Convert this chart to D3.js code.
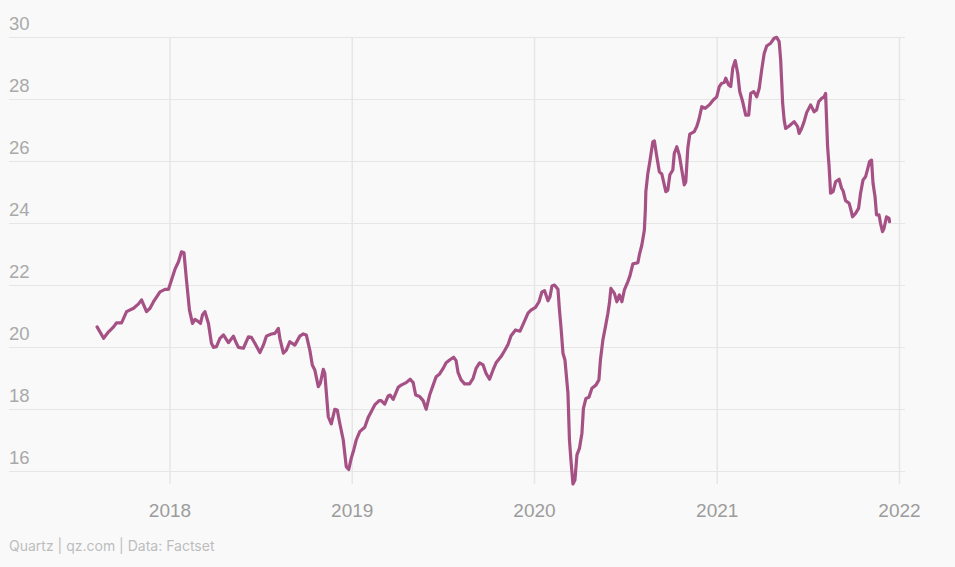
<!DOCTYPE html>
<html>
<head>
<meta charset="utf-8">
<script src="https://cdn.jsdelivr.net/npm/d3@7"></script>
<style>
	html, body { margin: 0; padding: 0; background: #f9f9f9; }
	svg { display: block; font-family: Inter, "Open Sans", sans-serif; }
</style>
</head>
<body>
<div class="container"></div>
<script>

// weekly-ish readings
let dates = [
	'2017-08-09', '2017-08-22', '2017-09-01', '2017-09-11', '2017-09-17', '2017-09-27', '2017-10-07', '2017-10-21',
	'2017-10-31', '2017-11-06', '2017-11-16', '2017-11-23', '2017-11-30', '2017-12-13', '2017-12-23', '2017-12-30',
	'2018-01-05', '2018-01-12', '2018-01-19', '2018-01-25', '2018-01-30', '2018-02-04', '2018-02-10', '2018-02-16',
	'2018-02-21', '2018-02-28', '2018-03-04', '2018-03-08', '2018-03-13', '2018-03-20', '2018-03-26', '2018-03-30',
	'2018-04-05', '2018-04-12', '2018-04-19', '2018-04-29', '2018-05-09', '2018-05-15', '2018-05-19', '2018-05-29',
	'2018-06-08', '2018-06-14', '2018-06-21', '2018-07-01', '2018-07-08', '2018-07-14', '2018-07-24', '2018-07-31',
	'2018-08-07', '2018-08-10', '2018-08-17', '2018-08-23', '2018-08-30', '2018-09-09', '2018-09-19', '2018-09-26',
	'2018-10-02', '2018-10-09', '2018-10-14', '2018-10-19', '2018-10-26', '2018-10-30', '2018-11-05', '2018-11-08',
	'2018-11-15', '2018-11-21', '2018-11-28', '2018-12-03', '2018-12-08', '2018-12-15', '2018-12-21', '2018-12-26',
	'2018-12-31', '2019-01-05', '2019-01-10', '2019-01-17', '2019-01-27', '2019-02-03', '2019-02-09', '2019-02-16',
	'2019-02-25', '2019-03-01', '2019-03-08', '2019-03-15', '2019-03-19', '2019-03-25', '2019-04-04', '2019-04-10',
	'2019-04-20', '2019-04-28', '2019-05-04', '2019-05-09', '2019-05-17', '2019-05-24', '2019-05-30', '2019-06-06',
	'2019-06-13', '2019-06-19', '2019-06-26', '2019-07-03', '2019-07-09', '2019-07-16', '2019-07-24', '2019-07-29',
	'2019-08-02', '2019-08-08', '2019-08-15', '2019-08-25', '2019-09-01', '2019-09-07', '2019-09-14', '2019-09-21',
	'2019-09-27', '2019-10-04', '2019-10-11', '2019-10-17', '2019-10-27', '2019-11-03', '2019-11-10', '2019-11-16',
	'2019-11-25', '2019-12-04', '2019-12-11', '2019-12-20', '2019-12-26', '2020-01-04', '2020-01-11', '2020-01-17',
	'2020-01-22', '2020-01-29', '2020-02-02', '2020-02-06', '2020-02-11', '2020-02-18', '2020-02-21', '2020-02-24',
	'2020-02-28', '2020-03-03', '2020-03-09', '2020-03-12', '2020-03-15', '2020-03-19', '2020-03-23', '2020-03-27',
	'2020-04-01', '2020-04-06', '2020-04-09', '2020-04-14', '2020-04-20', '2020-04-26', '2020-05-04', '2020-05-10',
	'2020-05-13', '2020-05-18', '2020-05-23', '2020-05-28', '2020-05-31', '2020-06-03', '2020-06-10', '2020-06-15',
	'2020-06-20', '2020-06-25', '2020-06-30', '2020-07-07', '2020-07-11', '2020-07-17', '2020-07-27', '2020-07-30',
	'2020-08-04', '2020-08-09', '2020-08-11', '2020-08-12', '2020-08-16', '2020-08-20', '2020-08-26', '2020-08-29',
	'2020-09-03', '2020-09-08', '2020-09-13', '2020-09-21', '2020-09-25', '2020-09-29', '2020-10-05', '2020-10-08',
	'2020-10-13', '2020-10-18', '2020-10-23', '2020-10-28', '2020-10-31', '2020-11-04', '2020-11-08', '2020-11-17',
	'2020-11-22', '2020-11-26', '2020-12-02', '2020-12-09', '2020-12-17', '2020-12-25', '2021-01-01', '2021-01-06',
	'2021-01-11', '2021-01-16', '2021-01-19', '2021-01-25', '2021-01-29', '2021-02-02', '2021-02-07', '2021-02-12',
	'2021-02-16', '2021-02-22', '2021-02-28', '2021-03-06', '2021-03-10', '2021-03-16', '2021-03-22', '2021-03-27',
	'2021-04-01', '2021-04-06', '2021-04-11', '2021-04-19', '2021-04-26', '2021-05-01', '2021-05-06', '2021-05-09',
	'2021-05-13', '2021-05-16', '2021-05-19', '2021-05-26', '2021-06-05', '2021-06-12', '2021-06-15', '2021-06-20',
	'2021-06-25', '2021-06-30', '2021-07-08', '2021-07-15', '2021-07-20', '2021-07-24', '2021-07-30', '2021-08-04',
	'2021-08-07', '2021-08-11', '2021-08-14', '2021-08-17', '2021-08-22', '2021-08-27', '2021-09-03', '2021-09-08',
	'2021-09-11', '2021-09-16', '2021-09-23', '2021-09-26', '2021-09-30', '2021-10-06', '2021-10-12', '2021-10-16',
	'2021-10-21', '2021-10-26', '2021-10-30', '2021-11-03', '2021-11-07', '2021-11-10', '2021-11-14', '2021-11-17',
	'2021-11-22', '2021-11-25', '2021-11-29', '2021-12-02', '2021-12-07', '2021-12-12', '2021-12-13'
]

let values = [
	20.65, 20.28, 20.49, 20.65, 20.78, 20.78, 21.14, 21.25,
	21.39, 21.52, 21.14, 21.25, 21.46, 21.78, 21.86, 21.86,
	22.16, 22.51, 22.75, 23.07, 23.04, 22.16, 21.19, 20.76,
	20.89, 20.82, 20.76, 21.03, 21.14, 20.76, 20.12, 19.99,
	20.01, 20.28, 20.39, 20.14, 20.35, 20.12, 19.99, 19.96,
	20.33, 20.31, 20.12, 19.82, 20.06, 20.35, 20.42, 20.44,
	20.60, 20.28, 19.80, 19.90, 20.17, 20.06, 20.35, 20.42,
	20.39, 19.90, 19.42, 19.26, 18.72, 18.83, 19.28, 19.15,
	17.75, 17.52, 17.99, 17.97, 17.54, 17.00, 16.14, 16.05,
	16.41, 16.68, 17.00, 17.27, 17.41, 17.73, 17.91, 18.13,
	18.27, 18.27, 18.16, 18.42, 18.45, 18.31, 18.70, 18.77,
	18.85, 18.96, 18.85, 18.45, 18.40, 18.27, 17.99, 18.45,
	18.77, 19.04, 19.13, 19.31, 19.49, 19.58, 19.67, 19.56,
	19.17, 18.94, 18.81, 18.81, 18.99, 19.31, 19.49, 19.42,
	19.15, 18.96, 19.26, 19.49, 19.69, 19.88, 20.08, 20.36,
	20.55, 20.51, 20.76, 21.09, 21.19, 21.28, 21.46, 21.78,
	21.82, 21.49, 21.62, 21.97, 22.00, 21.86, 21.19, 20.65,
	19.80, 19.58, 18.51, 17.00, 16.35, 15.58, 15.71, 16.52,
	16.73, 17.22, 18.02, 18.34, 18.38, 18.67, 18.77, 18.94,
	19.58, 20.23, 20.65, 21.09, 21.41, 21.89, 21.73, 21.46,
	21.68, 21.46, 21.84, 22.11, 22.29, 22.68, 22.72, 22.97,
	23.29, 23.77, 24.42, 25.01, 25.60, 25.98, 26.62, 26.65,
	26.14, 25.65, 25.58, 25.01, 25.06, 25.55, 25.71, 26.25,
	26.46, 26.19, 25.71, 25.23, 25.33, 26.41, 26.87, 26.95,
	27.11, 27.32, 27.75, 27.70, 27.81, 27.97, 28.07, 28.40,
	28.51, 28.53, 28.67, 28.45, 28.40, 28.99, 29.24, 28.83,
	28.24, 27.91, 27.48, 27.48, 28.18, 28.24, 28.07, 28.34,
	28.94, 29.47, 29.71, 29.80, 29.96, 29.99, 29.85, 29.26,
	27.86, 27.32, 27.05, 27.13, 27.27, 27.11, 26.89, 27.05,
	27.27, 27.56, 27.81, 27.59, 27.65, 27.91, 28.02, 28.07,
	28.18, 26.46, 25.82, 24.96, 25.01, 25.33, 25.41, 25.12,
	25.04, 24.72, 24.64, 24.47, 24.20, 24.31, 24.47, 24.96,
	25.39, 25.49, 25.73, 25.98, 26.03, 25.28, 24.85, 24.26,
	24.26, 23.99, 23.72, 23.83, 24.20, 24.15, 24.04
]

let yTicks = [16, 18, 20, 22, 24, 26, 28, 30]
let xTicks = ['2018-01-01', '2019-01-01', '2020-01-01', '2021-01-01', '2022-01-01']
let source = 'Quartz | qz.com | Data: Factset'

const width = 955
const height = 567
const parse = d3.timeParse('%Y-%m-%d')

let data = dates.map((d, i) => ({ date: parse(d), value: values[i] }))

let x = d3.scaleTime()
	.domain([parse(xTicks[0]), parse(xTicks[xTicks.length - 1])])
	.range([169.5, 899])

let y = d3.scaleLinear()
	.domain([16, 30])
	.range([471, 37])

let svg = d3.select('.container')
	.append('svg')
	.attr('width', width)
	.attr('height', height)

svg.append('rect')
	.attr('width', width)
	.attr('height', height)
	.attr('fill', '#f9f9f9')

// horizontal grid + labels
let yAxis = svg.append('g')
	.attr('transform', 'translate(9,0)')
	.call(d3.axisRight(y).tickValues(yTicks).tickSize(896).tickFormat(d3.format('d')))

yAxis.select('.domain').remove()
yAxis.selectAll('line').attr('stroke', '#e6e6e6').attr('stroke-width', 1.2)
yAxis.selectAll('text')
	.attr('x', 0)
	.attr('dy', -7.5)
	.attr('text-anchor', 'start')
	.attr('fill', '#a9a9a9')
	.style('font-size', '18.5px')

// vertical grid + year labels
let xAxis = svg.append('g')
	.attr('transform', 'translate(0,37)')
	.call(d3.axisBottom(x).tickValues(xTicks.map(parse)).tickSize(447).tickFormat(d3.timeFormat('%Y')))

xAxis.select('.domain').remove()
xAxis.selectAll('line').attr('stroke', '#e6e6e6').attr('stroke-width', 1.5)
xAxis.selectAll('text')
	.attr('y', 480)
	.attr('dy', 0)
	.attr('fill', '#9c9c9c')
	.style('font-size', '19px')

let line = d3.line()
	.x(d => x(d.date))
	.y(d => y(d.value))

svg.append('path')
	.datum(data)
	.attr('d', line)
	.attr('fill', 'none')
	.attr('stroke', '#a65185')
	.attr('stroke-width', 3.2)
	.attr('stroke-linejoin', 'round')
	.attr('stroke-linecap', 'round')

svg.append('text')
	.attr('x', 9)
	.attr('y', 551)
	.attr('fill', '#bdbdbd')
	.style('font-size', '14px')
	.text(source)

</script>
</body>
</html>
